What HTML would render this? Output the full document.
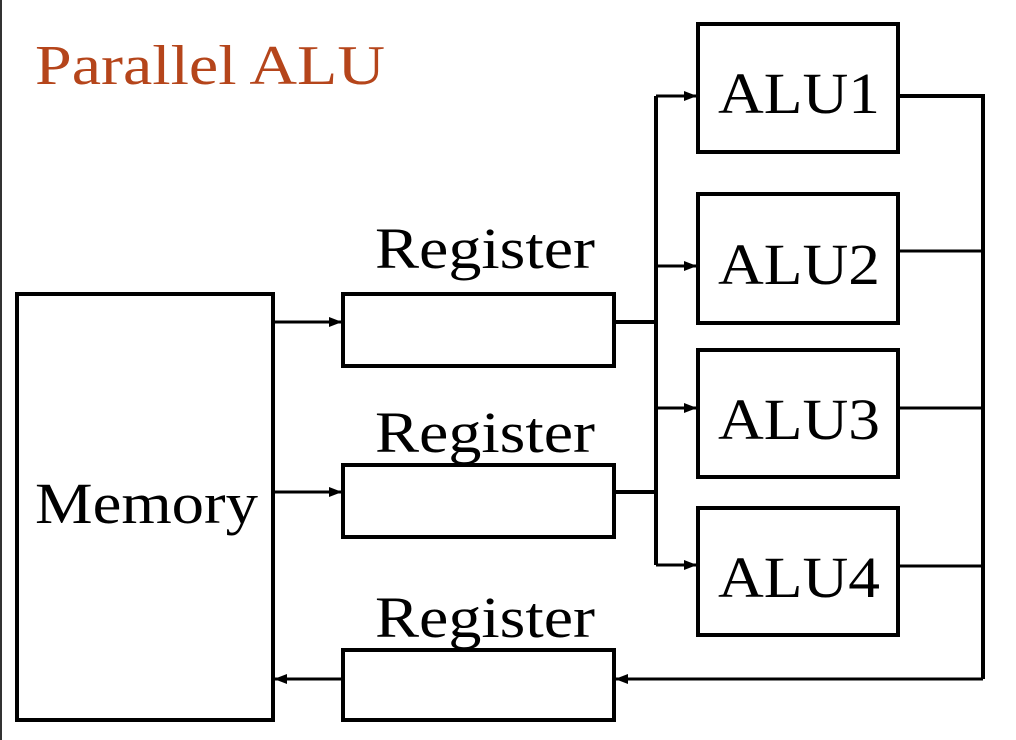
<!DOCTYPE html>
<html><head><style>
body{margin:0;background:#fff;width:1016px;height:740px;overflow:hidden}
svg{display:block}
text{font-family:"Liberation Serif",serif}
</style></head><body>
<svg width="1016" height="740" viewBox="0 0 1016 740">
<defs><marker id="a" markerWidth="13" markerHeight="10" refX="12" refY="5" orient="auto" markerUnits="userSpaceOnUse"><path d="M0,0L13,5L0,10z" fill="#000"/></marker></defs>
<line x1="1" y1="0" x2="1" y2="740" stroke="#333" stroke-width="2"/>
<text x="35" y="84" font-size="56" fill="#b5451b" textLength="350" lengthAdjust="spacingAndGlyphs">Parallel ALU</text>
<g fill="none" stroke="#000" stroke-width="4">
<rect x="17" y="294" width="256" height="426"/>
<rect x="343" y="294" width="271" height="72"/>
<rect x="343" y="465" width="271" height="72"/>
<rect x="343" y="650" width="271" height="70"/>
<rect x="698" y="24" width="200" height="128"/>
<rect x="698" y="194" width="200" height="129"/>
<rect x="698" y="350" width="200" height="127"/>
<rect x="698" y="508" width="200" height="127"/>
</g>
<g stroke="#000" stroke-width="3" fill="none">
<line x1="273" y1="322" x2="341" y2="322" marker-end="url(#a)"/>
<line x1="273" y1="492" x2="341" y2="492" marker-end="url(#a)"/>
<line x1="614" y1="322" x2="656" y2="322" stroke-width="4"/>
<line x1="614" y1="492" x2="656" y2="492" stroke-width="4"/>
<line x1="656" y1="96" x2="656" y2="565" stroke-width="4"/>
<line x1="656" y1="96" x2="696" y2="96" marker-end="url(#a)"/>
<line x1="656" y1="266" x2="696" y2="266" marker-end="url(#a)"/>
<line x1="656" y1="408" x2="696" y2="408" marker-end="url(#a)"/>
<line x1="656" y1="565" x2="696" y2="565" marker-end="url(#a)"/>
<line x1="898" y1="96" x2="983" y2="96" stroke-width="4"/>
<line x1="898" y1="251" x2="983" y2="251"/>
<line x1="898" y1="408" x2="983" y2="408"/>
<line x1="898" y1="566" x2="983" y2="566"/>
<line x1="983" y1="94" x2="983" y2="679" stroke-width="4"/>
<line x1="983" y1="679" x2="616" y2="679" marker-end="url(#a)"/>
<line x1="343" y1="679" x2="275" y2="679" marker-end="url(#a)"/>
</g>
<g font-size="58" fill="#000" lengthAdjust="spacingAndGlyphs">
<text x="375" y="268" textLength="220" lengthAdjust="spacingAndGlyphs">Register</text>
<text x="375" y="452" textLength="220" lengthAdjust="spacingAndGlyphs">Register</text>
<text x="375" y="637" textLength="220" lengthAdjust="spacingAndGlyphs">Register</text>
<text x="35" y="523" textLength="223" lengthAdjust="spacingAndGlyphs">Memory</text>
<text x="718" y="113" textLength="162" lengthAdjust="spacingAndGlyphs">ALU1</text>
<text x="718" y="284" textLength="162" lengthAdjust="spacingAndGlyphs">ALU2</text>
<text x="718" y="439" textLength="162" lengthAdjust="spacingAndGlyphs">ALU3</text>
<text x="718" y="597" textLength="162" lengthAdjust="spacingAndGlyphs">ALU4</text>
</g>
</svg>
</body></html>
